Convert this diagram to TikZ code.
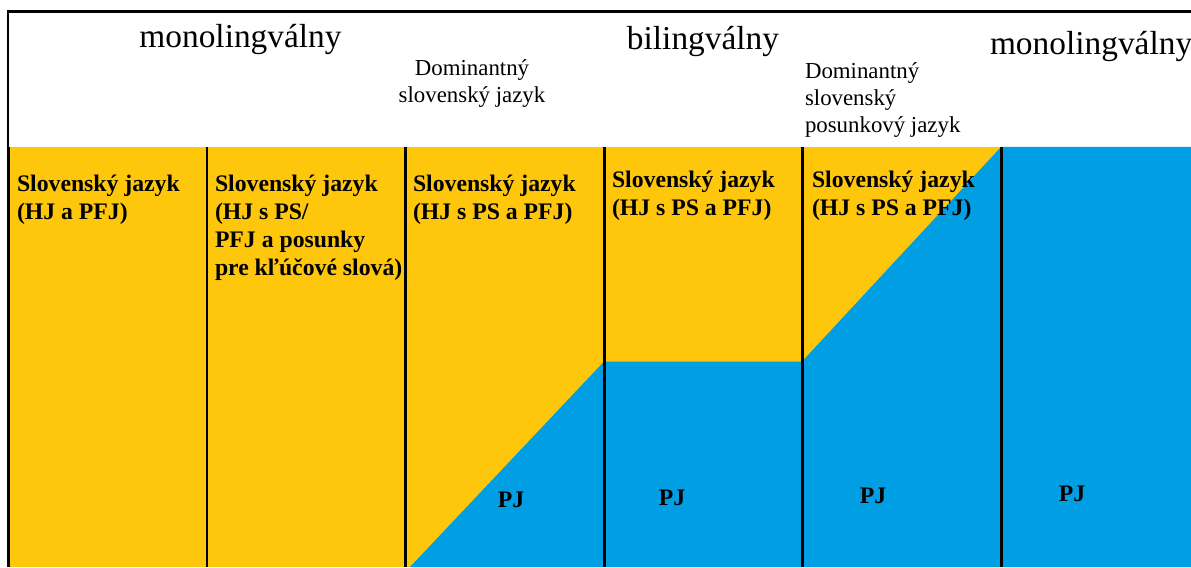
\documentclass[tikz,border=0pt]{standalone}
\usepackage{fontspec}
\setmainfont{Liberation Serif}
\definecolor{sjyellow}{RGB}{255,199,11}
\definecolor{pjblue}{RGB}{0,159,227}

\begin{document}
\begin{tikzpicture}[inner sep=0pt,outer sep=0pt]
\tikzstyle{every node}=[inner sep=0pt]
\tikzstyle{head}=[font=\fontsize{19pt}{23pt}\selectfont]
\tikzstyle{dom}=[font=\fontsize{13pt}{15.6pt}\selectfont]
\tikzstyle{lang}=[font=\fontsize{13.5pt}{16.1pt}\selectfont\bfseries,align=left,anchor=base west]
\tikzstyle{pj}=[font=\fontsize{13.5pt}{16pt}\selectfont\bfseries,anchor=base]
\tikzstyle{divider}=[line width=1.7pt]

\useasboundingbox (0,0) rectangle (23.82,11.34);
\clip (0,0) rectangle (23.82,11.34);

\fill[sjyellow] (0.18,0) rectangle (20.02,8.40);
\fill[pjblue] (8.20,0) -- (12.08,4.11) -- (16.04,4.11) -- (20.02,8.40)
  -- (23.82,8.40) -- (23.82,0) -- cycle;

\draw[line width=1.2pt] (0.16,0) -- (0.16,11.11) -- (23.90,11.11);
\foreach \x in {0.18,4.14,8.10,12.08,16.04,20.02}
  \draw[divider] (\x,0) -- (\x,8.40);

\node[head,anchor=base] (mono1) at (4.81,10.38) {monolingválny};
\node[head,anchor=base] (bi) at (14.06,10.34) {bilingválny};
\node[head,anchor=base west] (mono2) at (19.80,10.24) {monolingválny};

\node[dom,align=center,anchor=base] (dom1) at (9.44,9.28) {Dominantný\\slovenský jazyk};
\node[dom,align=left,anchor=base west] (dom2) at (16.10,8.68) {Dominantný\\slovenský\\posunkový jazyk};

\node[lang] (sj1) at (0.34,6.94) {Slovenský jazyk\\(HJ a PFJ)};
\node[lang] (sj2) at (4.30,5.82) {Slovenský jazyk\\(HJ s PS/\\PFJ a posunky\\pre kľúčové slová)};
\node[lang] (sj3) at (8.26,6.94) {Slovenský jazyk\\(HJ s PS a PFJ)};
\node[lang] (sj4) at (12.24,7.02) {Slovenský jazyk\\(HJ s PS a PFJ)};
\node[lang] (sj5) at (16.24,7.02) {Slovenský jazyk\\(HJ s PS a PFJ)};

\node[pj] (pj1) at (10.22,1.20) {PJ};
\node[pj] (pj2) at (13.44,1.24) {PJ};
\node[pj] (pj3) at (17.46,1.28) {PJ};
\node[pj] (pj4) at (21.44,1.32) {PJ};
\end{tikzpicture}
\end{document}
